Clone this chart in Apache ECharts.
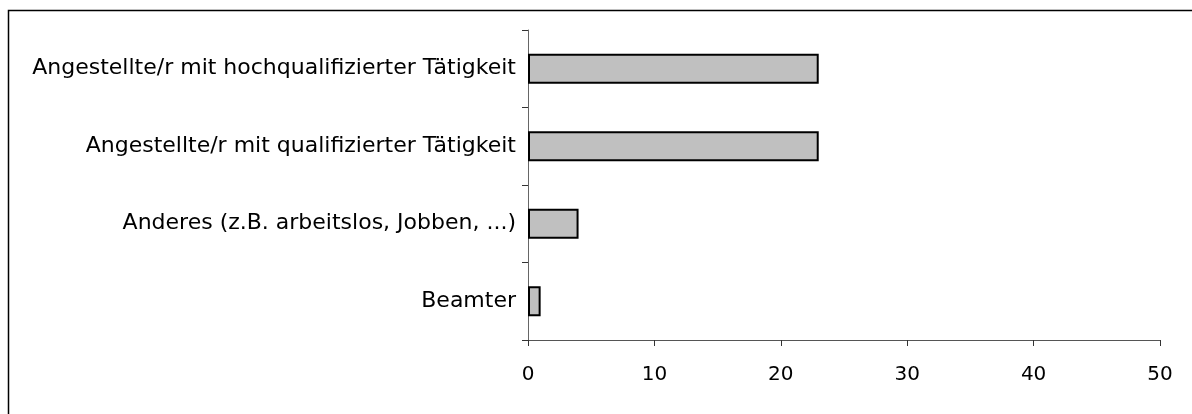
<!DOCTYPE html>
<html>
<head>
<meta charset="utf-8">
<script src="https://cdn.jsdelivr.net/npm/echarts@6/dist/echarts.min.js"></script>
<style>
  html, body { margin: 0; padding: 0; background: #fff; }
  #chart { width: 1192px; height: 414px; }
</style>
</head>
<body>
<div id="chart"></div>
<script>
// Kategorien von unten nach oben (wie im Balkendiagramm)
var categories = [
    'Beamter',
    'Anderes (z.B. arbeitslos, Jobben, ...)',
    'Angestellte/r mit qualifizierter Tätigkeit',
    'Angestellte/r mit hochqualifizierter Tätigkeit'
];
var values = [1, 4, 23, 23];
var xTicks = [0, 10, 20, 30, 40, 50];

var chartDom = document.getElementById('chart');
var myChart = echarts.init(chartDom);
var option;

option = {
    animation: false,
    textStyle: { fontFamily: 'DejaVu Sans, sans-serif' },
    graphic: [
        {
            type: 'rect',
            shape: { x: 8.5, y: 10.5, width: 1200, height: 420 },
            style: { fill: 'none', stroke: '#000', lineWidth: 1.5 },
            silent: true
        }
    ],
    grid: {
        left: 528,
        right: 32,
        top: 30,
        bottom: 74
    },
    xAxis: {
        type: 'value',
        min: xTicks[0],
        max: xTicks[xTicks.length - 1],
        interval: 10,
        axisLine: { show: true, lineStyle: { color: '#555', width: 1 } },
        axisTick: { show: true, length: 6, lineStyle: { color: '#333' } },
        splitLine: { show: false },
        axisLabel: { color: '#000', fontSize: 20, margin: 25 }
    },
    yAxis: {
        type: 'category',
        data: categories,
        axisLine: { show: true, lineStyle: { color: '#666', width: 1 } },
        axisTick: { show: true, length: 6, lineStyle: { color: '#333' } },
        axisLabel: { color: '#000', fontSize: 22, margin: 12 }
    },
    series: [
        {
            type: 'bar',
            data: values,
            barWidth: 30,
            itemStyle: {
                color: '#c0c0c0',
                borderColor: '#000',
                borderWidth: 2
            }
        }
    ]
};

option && myChart.setOption(option);
</script>
</body>
</html>
